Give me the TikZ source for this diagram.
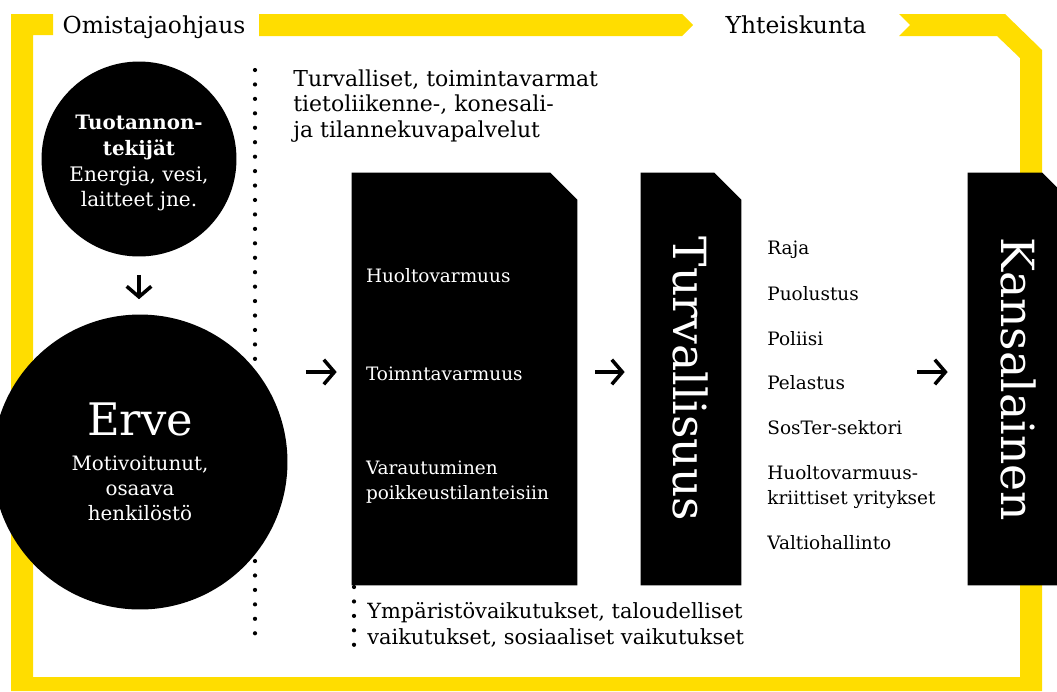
\documentclass[tikz,border=0pt]{standalone}
\usepackage{fontspec}
\setmainfont{DejaVu Serif}
\usepackage{xcolor}
\usetikzlibrary{arrows.meta, positioning, calc, backgrounds}
\definecolor{frameyellow}{RGB}{255,221,0}

\begin{document}
\begin{tikzpicture}[
  x=0.02cm, y=-0.02cm,
  ball/.style={circle, fill=black, text=white, align=center, inner sep=0pt},
  panel/.style={rectangle, text=white, inner sep=0pt, minimum height=8.24cm},
  headtext/.style={font=\fontsize{12.5}{14.7}\selectfont, inner sep=0pt},
  framelabel/.style={font=\fontsize{13.3}{15}\selectfont, inner sep=0pt},
  bodytext/.style={font=\fontsize{10.5}{14.2}\selectfont, inner sep=0pt},
  bigtext/.style={font=\fontsize{26}{26}\selectfont},
  arr/.style={-{Straight Barb[length=6pt, width=14pt]}, line width=2pt},
  dotline/.style={line width=2.4pt, line cap=round, dash pattern=on 0pt off 8.22pt}
]
\useasboundingbox (0,0) rectangle (1057,691);

% labels on the frame
\node[framelabel, anchor=base] (omistaja) at (154,33) {Omistajaohjaus};
\node[framelabel, anchor=base] (yhteiskunta) at (796,33) {Yhteiskunta};

% left column
\node[ball, minimum size=3.9cm, font=\fontsize{11.4}{14.7}\selectfont] (tekijat) at (139,159)
  {\rule{0pt}{13pt}\textbf{\fontsize{11.3}{14.7}\selectfont Tuotannon-}\\\textbf{\fontsize{11.3}{14.7}\selectfont tekijät}\\Energia, vesi,\\laitteet jne.};
\node[ball, minimum size=5.9cm, font=\fontsize{11.3}{14.2}\selectfont] (erve) at (140,462)
  {{\fontsize{25.5}{25.5}\selectfont Erve}\\[5.6pt]Motivoitunut,\\osaava\\henkilöstö};

% texts above and below
\node[headtext, anchor=north west, align=left] (palvelut) at (293,69)
  {Turvalliset, toimintavarmat\\tietoliikenne-, konesali-\\ja tilannekuvapalvelut};
\node[headtext, font=\fontsize{11.9}{14.7}\selectfont, anchor=north west, align=left] (vaikutukset) at (367,602)
  {Ympäristövaikutukset, taloudelliset\\vaikutukset, sosiaaliset vaikutukset};

% black panels
\node[panel, bodytext, text width=3.94cm, inner xsep=0.28cm, align=left] (box1) at (464.5,379)
  {\rule{0pt}{16pt}Huoltovarmuus\\[41.4pt]Toimntavarmuus\\[39.7pt]Varautuminen\\poikkeustilanteisiin};
\node[panel, bigtext, minimum width=2cm] (box2) at (691,379) {\rotatebox{-90}{Turvallisuus}};
\node[panel, bigtext, minimum width=2.02cm] (box3) at (1018.5,379) {\rotatebox{-90}{Kansalainen}};

\node[bodytext, anchor=west, align=left] (sektorit) at (767,395)
  {Raja\\[12pt]Puolustus\\[11.3pt]Poliisi\\[11.3pt]Pelastus\\[11.3pt]SosTer-sektori\\[11.3pt]Huoltovarmuus-\\kriittiset yritykset\\[11.3pt]Valtiohallinto};

\begin{scope}[on background layer]
  \fill[frameyellow] (11,14) -- (53,14) -- (53,35) -- (33,35) -- (33,677) -- (1020,677)
    -- (1020,58) -- (997,36) -- (899,36) -- (910,25) -- (899,14) -- (1005,14) -- (1042,50)
    -- (1042,691) -- (11,691) -- cycle;
  \fill[frameyellow] (259,14) -- (682,14) -- (693,25) -- (682,36) -- (259,36) -- cycle;
  \draw[dotline] (255,70) -- (255,647);
  \draw[dotline] (354,587) -- (354,647);
  \foreach \b in {box1,box2,box3}
    \fill (\b.south west) |- ($(\b.north east)+(-27,0)$) -- ($(\b.north east)+(0,27)$)
      -- (\b.south east) -- cycle;
\end{scope}

% arrows
\draw[arr, shorten <=0.36cm, shorten >=0.3cm] (tekijat.south) -- (tekijat.south |- erve.north);
\draw[arr, transform canvas={yshift=0.14cm}, shorten <=0.36cm, shorten >=0.3cm]
  (erve.east |- box1.west) -- (box1.west);
\draw[arr, transform canvas={yshift=0.14cm}, shorten <=0.36cm, shorten >=0.32cm]
  (box1.east) -- (box2.west);
\draw[arr, transform canvas={yshift=0.14cm}, shorten <=3.52cm, shorten >=0.4cm]
  (box2.east) -- (box3.west);

\end{tikzpicture}
\end{document}
